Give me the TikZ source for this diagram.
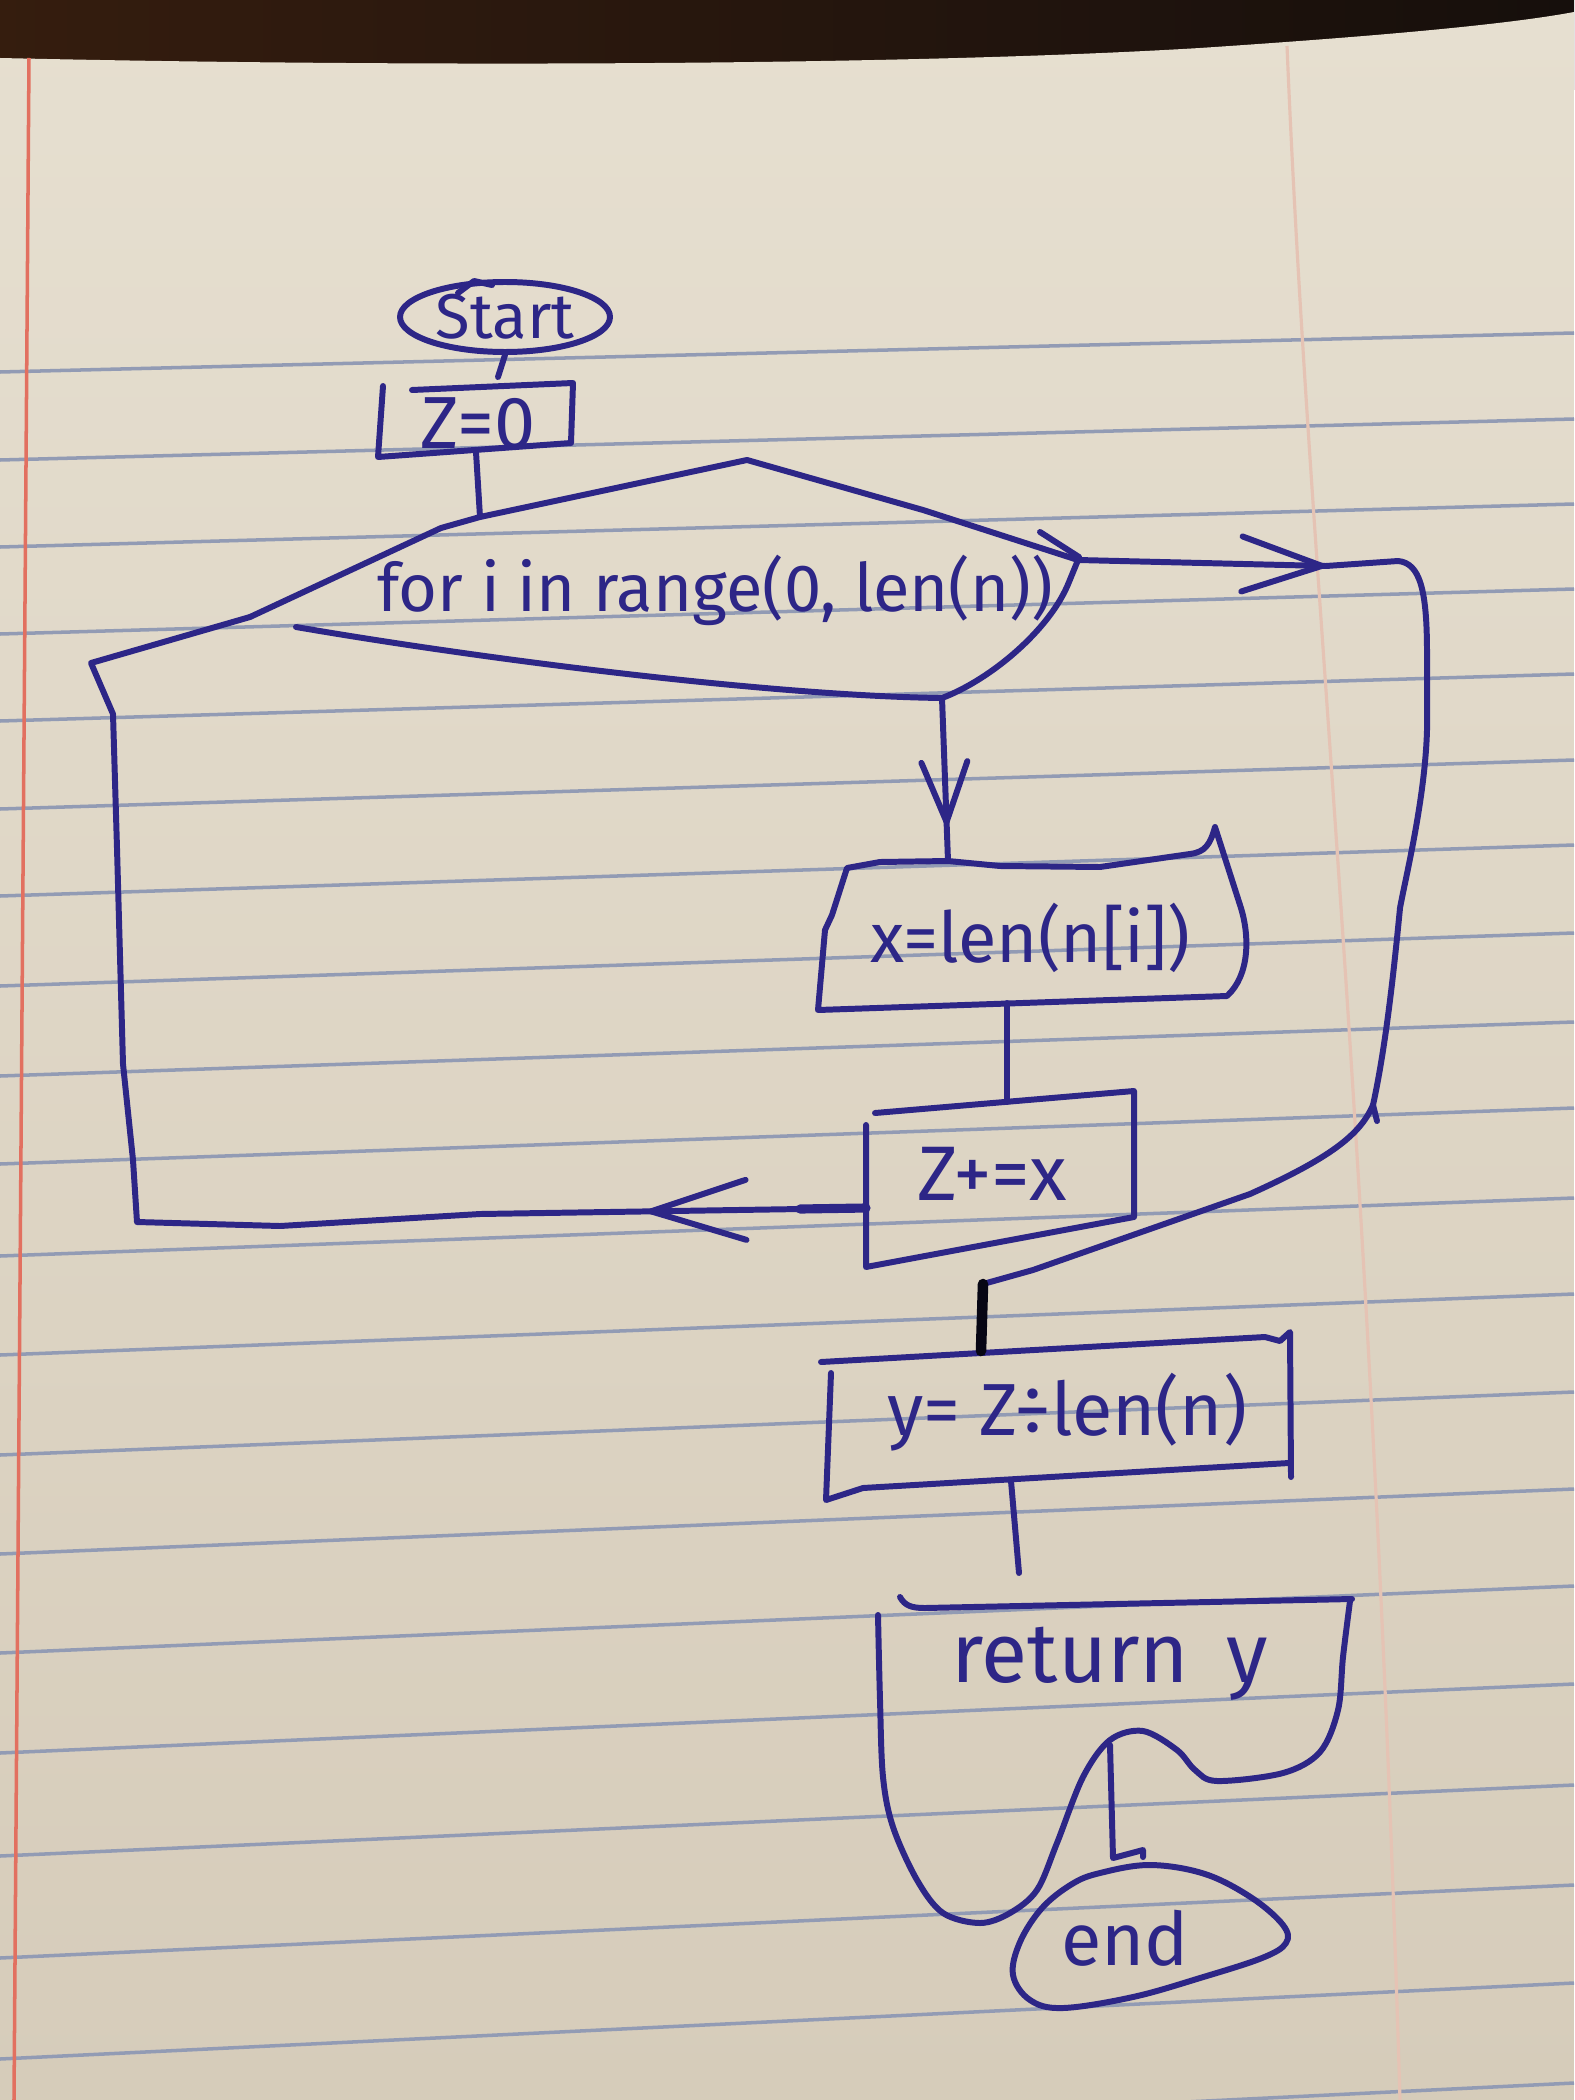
\documentclass[tikz,border=0pt]{standalone}
\usepackage{fontspec}
\setmainfont{Fira Sans}
\usepackage{xcolor}
\usetikzlibrary{arrows.meta, decorations.markings, shapes.geometric}

\definecolor{inkblue}{RGB}{45,38,135}
\definecolor{paperhi}{RGB}{230,223,208}
\definecolor{paperlo}{RGB}{214,204,186}
\definecolor{ruleblue}{RGB}{146,155,180}
\definecolor{marginred}{RGB}{226,112,96}
\definecolor{woodlight}{RGB}{88,48,24}
\definecolor{wooddark}{RGB}{22,15,12}

\begin{document}
\begin{tikzpicture}[
    x=0.1mm, y=-0.1mm,
    ink/.style={draw=inkblue, line width=1.7pt, line cap=round, line join=round},
    marker/.style={draw=black!85!inkblue, line width=3pt, line cap=round},
    ruling/.style={draw=ruleblue, line width=1pt},
    lbl/.style={text=inkblue, inner sep=0pt, font=\fontsize{#1}{#1}\selectfont},
    lbl/.default=20,
    terminal/.style={ellipse, ink, minimum width=21mm, minimum height=7mm, inner sep=0pt},
    tipat/.style n args={3}{postaction={decorate}, decoration={markings,
        mark=at position #1 with {\arrow[inkblue, line width=1.7pt]{Straight Barb[length=#2, width=#3, round]}}}}
]
    \useasboundingbox (0,0) rectangle (1574,2100);

    % table and sheet
    \shade[left color=woodlight!60!black, middle color=woodlight, right color=wooddark] (0,0) rectangle (1574,90);
    \shade[top color=paperhi, bottom color=paperlo] (0,58) .. controls (400,67) and (900,66) .. (1200,48)
        .. controls (1350,38) and (1500,26) .. (1574,12) -- (1574,2100) -- (0,2100) -- cycle;
    \foreach \yl/\yr in {372/333, 460/419, 547/504, 634/589, 721/674, 809/760, 896/845, 986/933,
        1076/1022, 1164/1108, 1256/1198, 1355/1294, 1455/1392, 1554/1489, 1653/1586, 1753/1684,
        1856/1785, 1958/1885, 2059/1983, 2160/2083}
        \draw[ruling] (0,\yl) -- (1574,\yr);
    \draw[marginred, line width=1pt] (29,58) -- (14,2100);
    \draw[marginred!25!paperhi, line width=0.9pt] (1287,46) .. controls (1310,600) and (1370,1100) .. (1400,2100);

    % Start
    \node[terminal, lbl=18] (start) at (505,317) {Start};
    \draw[ink] (458,293) -- (474,281) -- (492,285);

    % Z=0
    \node[lbl=21] (zinit) at (478,424) {Z=0};
    \coordinate (zinit-n) at (498,377);
    \coordinate (zinit-s) at (476,452);
    \draw[ink] (412,390) -- (573,383) -- (571,443) -- (378,457) -- (383,386);
    \draw[ink] (start.south) -- (zinit-n);

    % for loop
    \node[lbl=19] (loop) at (715,590) {for i in range(0, len(n))};
    \coordinate (loop-n) at (480,517);
    \coordinate (loop-e) at (1078,560);
    \coordinate (loop-s) at (942,698);
    \coordinate (loop-w) at (250,617);
    \draw[ink] (296,627) .. controls (500,662) and (780,696) .. (loop-s)
        .. controls (990,680) and (1050,630) .. (1069,582) -- (loop-e) -- (923,510) -- (747,460)
        -- (loop-n) -- (441,528) -- (loop-w);
    \draw[ink] (1040,532) -- (1079,557);
    \draw[ink] (zinit-s) -- (loop-n);

    % x=len(n[i])
    \node[lbl=20] (getx) at (1030,938) {x=len(n[i])};
    \coordinate (getx-n) at (948,861);
    \coordinate (getx-s) at (1007,1003);
    \draw[ink] (1215,827) .. controls (1210,845) and (1205,852) .. (1190,854) -- (1100,867) -- (1000,866)
        -- (getx-n) -- (880,862) -- (847,868) -- (832,915) -- (825,930) -- (818,1010) -- (1227,996)
        .. controls (1250,975) and (1250,935) .. (1240,905) -- cycle;
    \draw[ink, tipat={12.7mm}{6mm}{4.6mm}] (loop-s) -- (getx-n);

    % Z+=x
    \node[lbl=22] (addz) at (992,1174) {Z+=x};
    \coordinate (addz-n) at (1007,1102);
    \coordinate (addz-w) at (866,1208);
    \draw[ink] (875,1113) -- (1134,1091) -- (1134,1217) -- (866,1267) -- (866,1125);
    \draw[ink] (getx-s) -- (addz-n);

    % back to the loop
    \draw[ink, tipat={21.8mm}{9.5mm}{6mm}] (addz-w) -- (480,1214) -- (280,1226) -- (137,1222)
        -- (133,1160) -- (123,1064) -- (117,848) -- (113,714) -- (91,663) -- (loop-w);
    \draw[ink, line width=2.6pt] (800,1209) -- (addz-w);

    % loop done
    \coordinate (exit) at (983,1284);
    \draw[ink, tipat={24.7mm}{8mm}{5.5mm}] (loop-e) -- (1326,566) -- (1398,561)
        .. controls (1420,563) and (1427,590) .. (1427,653) -- (1427,730)
        .. controls (1425,800) and (1405,880) .. (1400,908)
        .. controls (1393,980) and (1385,1050) .. (1373,1105)
        .. controls (1360,1135) and (1330,1158) .. (1250,1194) -- (1033,1270) -- (exit);
    \draw[ink] (1373,1105) -- (1377,1121);

    % y= Z/len(n)
    \node[lbl=21] (avg) at (1067,1412) {y= Z÷len(n)};
    \coordinate (avg-n) at (981,1351);
    \coordinate (avg-s) at (1011,1481);
    \draw[ink] (821,1362) -- (1265,1337) -- (1280,1341) -- (1290,1332) -- (1291,1477);
    \draw[ink] (831,1373) -- (826,1500) -- (863,1488) -- (1289,1463);
    \draw[marker] (exit) -- (avg-n);

    % return y
    \node[lbl=24] (ret) at (1110,1664) {return\hspace{0.45em}y};
    \coordinate (ret-n) at (1019,1573);
    \coordinate (ret-s) at (1110,1745);
    \draw[ink] (avg-s) -- (ret-n);
    \draw[ink] (900,1597) .. controls (905,1606) and (912,1608) .. (925,1608) -- (1352,1599);
    \draw[ink] plot[smooth, tension=0.55] coordinates {(1350,1601) (1343,1657) (1338,1710) (1320,1752)
        (1283,1773) (1217,1781) (1195,1770) (1177,1750) (1143,1731) (1110,1740) (1083,1777) (1057,1843)
        (1037,1890) (1010,1913) (980,1923) (943,1913) (917,1880) (893,1827) (883,1777) (880,1700) (878,1615)};

    % end
    \node[lbl=21] (stop) at (1125,1938) {end};
    \coordinate (stop-n) at (1113,1858);
    \draw[ink] (ret-s) -- (stop-n) -- (1143,1850) -- (1143,1857);
    \draw[ink] plot[smooth cycle, tension=0.6] coordinates {(1100,1873) (1150,1865) (1205,1874) (1252,1898)
        (1283,1925) (1286,1943) (1262,1958) (1200,1978) (1133,1997) (1063,2008) (1030,2000) (1013,1975)
        (1020,1942) (1042,1908) (1072,1884)};

\end{tikzpicture}
\end{document}
